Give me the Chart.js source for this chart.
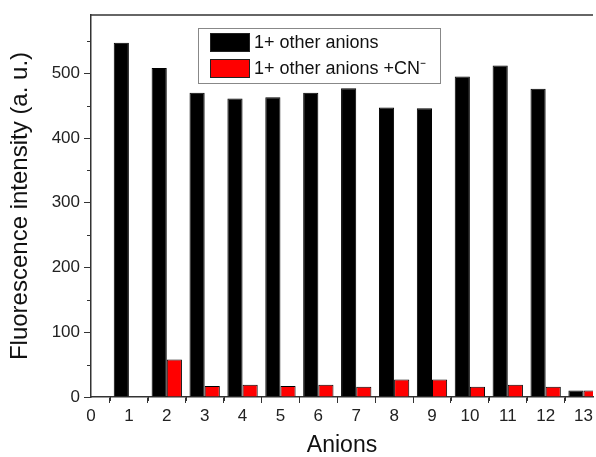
<!DOCTYPE html>
<html>
<head>
<meta charset="utf-8">
<script src="https://cdn.jsdelivr.net/npm/chart.js@4.4.1/dist/chart.umd.min.js"></script>
<style>
  html, body { margin: 0; padding: 0; background: #fff; }
  #wrap { width: 596px; height: 457px; }
</style>
</head>
<body>
<div id="wrap"><canvas id="barChart"></canvas></div>
<script>
// anion numbers along the x axis
var anions = [1, 2, 3, 4, 5, 6, 7, 8, 9, 10, 11, 12, 13];
// fluorescence of 1 with each anion, and after CN- is added
var withAnion = [547, 508, 470, 461, 463, 470, 477, 447, 446, 495, 512, 476, 10];
var withAnionCN = [0, 58, 17, 19, 17, 19, 16, 27, 27, 16, 19, 16, 10];
var seriesNames = ['1+ other anions', '1+ other anions +CN\u207B'];
var seriesColors = ['#000000', '#ff0000'];
// labelled ticks on the y axis
var yTickValues = [0, 100, 200, 300, 400, 500];

var fontFamily = '"Liberation Sans", Arial, sans-serif';

function toPoints(vals) {
    return anions.map(function (a, i) { return { x: a, y: vals[i] }; });
}

// top frame, minor ticks and the boxed legend inside the plot
var extrasPlugin = {
    id: 'extras',
    afterDraw: function (chart) {
        var ctx = chart.ctx;
        var area = chart.chartArea;
        var xs = chart.scales.x, ys = chart.scales.y;
        ctx.save();
        ctx.strokeStyle = '#333';
        ctx.lineWidth = 1.5;
        ctx.beginPath();
        ctx.moveTo(area.left, area.top);
        ctx.lineTo(area.right, area.top);
        ctx.stroke();

        // minor ticks
        ctx.lineWidth = 1;
        ctx.beginPath();
        for (var v = 0.5; v < xs.max; v += 1) {
            var px = Math.round(xs.getPixelForValue(v)) + 0.5;
            ctx.moveTo(px, area.bottom);
            ctx.lineTo(px, area.bottom + 4);
        }
        for (var w = 50; w < ys.max; w += 100) {
            var py = Math.round(ys.getPixelForValue(w)) + 0.5;
            ctx.moveTo(area.left, py);
            ctx.lineTo(area.left - 4, py);
        }
        ctx.stroke();

        // legend
        var lx = area.left + 107, ly = area.top + 13;
        ctx.strokeStyle = '#888';
        ctx.lineWidth = 1;
        ctx.strokeRect(lx + 0.5, ly + 0.5, 242, 55);
        ctx.font = '18px ' + fontFamily;
        ctx.textBaseline = 'middle';
        chart.data.datasets.forEach(function (ds, i) {
            var sy = ly + 5 + i * 26;
            ctx.fillStyle = ds.backgroundColor;
            ctx.fillRect(lx + 12, sy, 40, 19);
            ctx.strokeStyle = '#222';
            ctx.strokeRect(lx + 12.5, sy + 0.5, 39, 18);
            ctx.fillStyle = '#111';
            ctx.fillText(ds.label, lx + 56, sy + 10);
        });
        ctx.restore();
    }
};

var ctx = document.getElementById('barChart').getContext('2d');

var barChart = new Chart(ctx, {
    type: 'bar',
    data: {
        datasets: [{
            label: seriesNames[0],
            data: toPoints(withAnion),
            backgroundColor: seriesColors[0],
            borderColor: '#000',
            borderWidth: 1,
            borderSkipped: 'start'
        }, {
            label: seriesNames[1],
            data: toPoints(withAnionCN),
            backgroundColor: seriesColors[1],
            borderColor: '#000',
            borderWidth: 1,
            borderSkipped: 'start'
        }]
    },
    options: {
        responsive: true,
        maintainAspectRatio: false,
        animation: false,
        categoryPercentage: 0.8,
        barPercentage: 1.0,
        layout: { padding: { top: 15, right: 0, bottom: 0, left: 0 } },
        plugins: {
            legend: { display: false },
            tooltip: { enabled: false }
        },
        scales: {
            x: {
                type: 'linear',
                min: 0,
                max: 13.25,
                offset: false,
                afterFit: function (scale) { scale.height = 60; },
                ticks: {
                    stepSize: 1,
                    includeBounds: false,
                    autoSkip: false,
                    maxRotation: 0,
                    padding: 3,
                    color: '#222',
                    font: { family: fontFamily, size: 17 }
                },
                grid: {
                    drawOnChartArea: false,
                    drawTicks: true,
                    tickLength: 6,
                    tickColor: '#333'
                },
                border: { color: '#333', width: 1.5 },
                title: {
                    display: true,
                    text: 'Anions',
                    color: '#111',
                    padding: { top: 0, bottom: 0 },
                    font: { family: fontFamily, size: 23, lineHeight: 1.0 }
                }
            },
            y: {
                min: 0,
                max: 590,
                afterFit: function (scale) { scale.width = 91; },
                afterBuildTicks: function (scale) {
                    scale.ticks = yTickValues.map(function (v) { return { value: v }; });
                },
                ticks: {
                    padding: 4,
                    color: '#222',
                    font: { family: fontFamily, size: 17 }
                },
                grid: {
                    drawOnChartArea: false,
                    drawTicks: true,
                    tickLength: 7,
                    tickColor: '#333'
                },
                border: { color: '#333', width: 1.5 },
                title: {
                    display: true,
                    text: 'Fluorescence intensity (a. u.)',
                    color: '#111',
                    padding: { top: 8, bottom: 0 },
                    font: { family: fontFamily, size: 24, lineHeight: 1.0 }
                }
            }
        }
    },
    plugins: [extrasPlugin]
});
</script>
</body>
</html>
